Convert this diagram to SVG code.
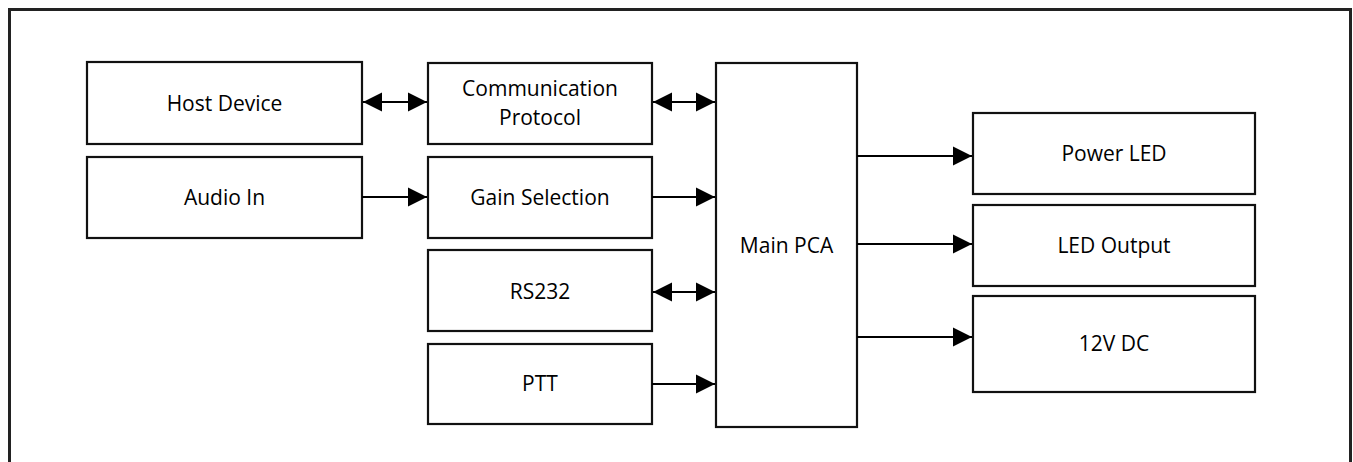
<svg xmlns="http://www.w3.org/2000/svg" width="1353" height="462" viewBox="0 0 1353 462">
<defs>
<marker id="ah" markerUnits="userSpaceOnUse" markerWidth="20" markerHeight="20" viewBox="0 0 20 20" refX="19" refY="10" orient="auto-start-reverse">
<path d="M0,0.5 L19,10 L0,19.5 Z" fill="#000"/>
</marker>
<style>
.box{fill:#fff;stroke:#111;stroke-width:2.2}
.t{font-family:"Open Sans","Noto Sans",sans-serif;font-size:21px;fill:#000;text-anchor:middle}
.c{stroke:#000;stroke-width:2;fill:none}
</style>
</defs>
<rect width="1353" height="462" fill="#fff"/>
<path d="M9.5,462 V9.5 H1350.5 V462" fill="none" stroke="#222" stroke-width="3"/>
<g id="host"><rect class="box" x="87" y="62" width="275" height="82"/><text class="t" x="224.5" y="111">Host Device</text></g>
<g id="audio"><rect class="box" x="87" y="157" width="275" height="81"/><text class="t" x="224.5" y="204.5">Audio In</text></g>
<g id="comm"><rect class="box" x="428" y="63" width="224" height="81"/><text class="t" x="540" y="96">Communication</text><text class="t" x="540" y="125">Protocol</text></g>
<g id="gain"><rect class="box" x="428" y="157" width="224" height="81"/><text class="t" x="540" y="204.5">Gain Selection</text></g>
<g id="rs232"><rect class="box" x="428" y="250" width="224" height="81"/><text class="t" x="540" y="298.5">RS232</text></g>
<g id="ptt"><rect class="box" x="428" y="344" width="224" height="80"/><text class="t" x="540" y="391">PTT</text></g>
<g id="main"><rect class="box" x="716" y="63" width="141" height="364"/><text class="t" x="786.5" y="253">Main PCA</text></g>
<g id="power"><rect class="box" x="973" y="113" width="282" height="81"/><text class="t" x="1114" y="161">Power LED</text></g>
<g id="ledout"><rect class="box" x="973" y="205" width="282" height="81"/><text class="t" x="1114" y="253">LED Output</text></g>
<g id="dc"><rect class="box" x="973" y="296" width="282" height="96"/><text class="t" x="1114" y="350.5">12V DC</text></g>
<g id="connectors">
<line class="c" x1="363" y1="102" x2="427" y2="102" marker-start="url(#ah)" marker-end="url(#ah)"/>
<line class="c" x1="653" y1="102" x2="715" y2="102" marker-start="url(#ah)" marker-end="url(#ah)"/>
<line class="c" x1="362" y1="197" x2="427" y2="197" marker-end="url(#ah)"/>
<line class="c" x1="652" y1="197" x2="715" y2="197" marker-end="url(#ah)"/>
<line class="c" x1="653" y1="292" x2="715" y2="292" marker-start="url(#ah)" marker-end="url(#ah)"/>
<line class="c" x1="652" y1="384" x2="715" y2="384" marker-end="url(#ah)"/>
<line class="c" x1="857" y1="156" x2="972" y2="156" marker-end="url(#ah)"/>
<line class="c" x1="857" y1="244" x2="972" y2="244" marker-end="url(#ah)"/>
<line class="c" x1="857" y1="337" x2="972" y2="337" marker-end="url(#ah)"/>
</g>
</svg>
